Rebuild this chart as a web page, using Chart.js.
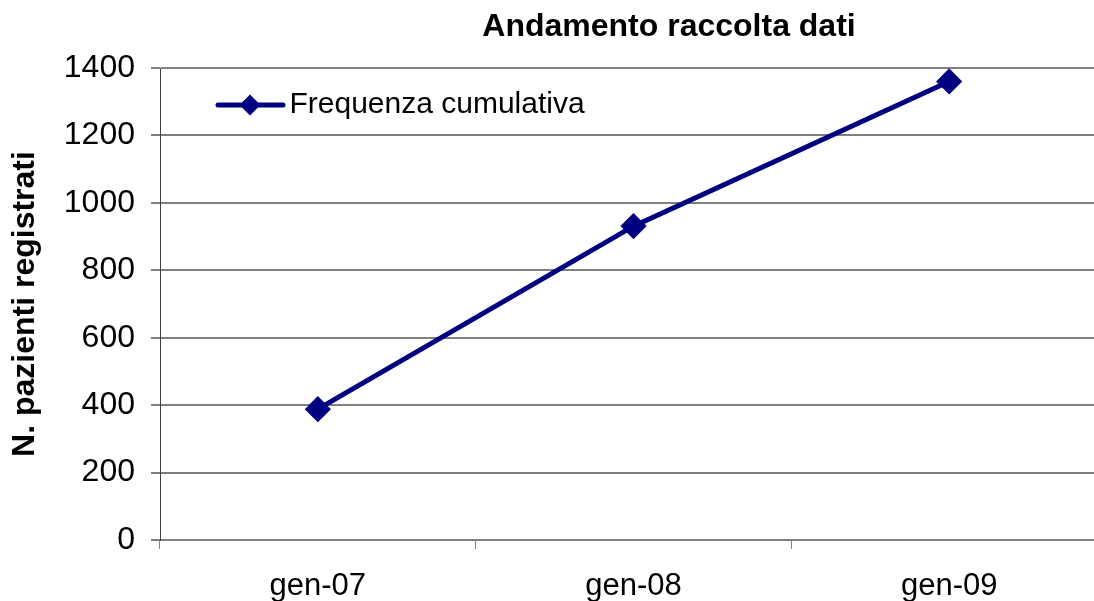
<!DOCTYPE html>
<html lang="it">
<head>
<meta charset="utf-8">
<title>Andamento raccolta dati</title>
<script src="https://cdn.jsdelivr.net/npm/chart.js@4/dist/chart.umd.min.js"></script>
<style>
  html, body { margin: 0; padding: 0; background: #ffffff; overflow: hidden; }
  #wrap { position: absolute; left: 0; top: 0; width: 1338px; height: 620px; }
</style>
</head>
<body>
<div id="wrap"><canvas id="chart"></canvas></div>
<script>
// Cumulative count of registered patients, by January of each year
const periodi = ['gen-07', 'gen-08', 'gen-09'];
const frequenzaCumulativa = [388, 931, 1360];
const yTicks = [0, 200, 400, 600, 800, 1000, 1200, 1400];

const FONT = '"Liberation Sans", Arial, Helvetica, sans-serif';
const NAVY = '#000080';
const GRID = '#808080';

// Series key drawn inside the plot area: line sample + diamond + label
const seriesKey = {
  id: 'seriesKey',
  afterDraw(chart) {
    const { ctx, chartArea } = chart;
    const ds = chart.data.datasets[0];
    const y = chartArea.top + 37;
    const x0 = chartArea.left + 58;
    const x1 = chartArea.left + 123;
    const cx = chartArea.left + 90;
    ctx.save();
    ctx.strokeStyle = ds.borderColor;
    ctx.lineWidth = 5;
    ctx.lineCap = 'round';
    ctx.beginPath();
    ctx.moveTo(x0, y);
    ctx.lineTo(x1, y);
    ctx.stroke();
    const r = 10.5;
    ctx.fillStyle = ds.pointBackgroundColor;
    ctx.beginPath();
    ctx.moveTo(cx - r, y);
    ctx.lineTo(cx, y - r);
    ctx.lineTo(cx + r, y);
    ctx.lineTo(cx, y + r);
    ctx.closePath();
    ctx.fill();
    ctx.fillStyle = '#000000';
    ctx.font = '30px ' + FONT;
    ctx.textBaseline = 'middle';
    ctx.textAlign = 'left';
    ctx.fillText(ds.label, chartArea.left + 129.5, y);
    ctx.restore();
  }
};

new Chart(document.getElementById('chart'), {
  type: 'line',
  data: {
    labels: periodi,
    datasets: [{
      label: 'Frequenza cumulativa',
      data: frequenzaCumulativa,
      borderColor: NAVY,
      backgroundColor: NAVY,
      borderWidth: 5,
      tension: 0,
      pointStyle: 'rectRot',
      pointRadius: 11,
      pointBorderWidth: 3,
      pointBackgroundColor: NAVY,
      pointBorderColor: NAVY,
      xAxisID: 'x',
      yAxisID: 'y'
    }]
  },
  options: {
    responsive: true,
    maintainAspectRatio: false,
    animation: false,
    devicePixelRatio: 1,
    layout: { padding: 0 },
    plugins: {
      legend: { display: false },
      tooltip: { enabled: false },
      title: {
        display: true,
        text: 'Andamento raccolta dati',
        color: '#000000',
        font: { family: FONT, size: 32, weight: 'bold', lineHeight: 1.2 },
        padding: { top: 8, bottom: 21.6 }
      }
    },
    scales: {
      x: {
        type: 'category',
        offset: true,
        grid: {
          offset: true,
          drawOnChartArea: false,
          drawTicks: true,
          tickLength: 9,
          color: GRID,
          lineWidth: 1
        },
        border: { display: true, color: GRID, width: 2 },
        ticks: {
          color: '#000000',
          font: { family: FONT, size: 31, lineHeight: 1.2 },
          padding: 19,
          maxRotation: 0,
          autoSkip: false
        },
        afterFit(s) { s.height = 80; }
      },
      y: {
        type: 'linear',
        position: 'left',
        min: 0,
        max: 1400,
        afterBuildTicks(s) { s.ticks = yTicks.map(v => ({ value: v })); },
        grid: {
          color: GRID,
          lineWidth: 2,
          drawTicks: true,
          tickLength: 9
        },
        border: { display: true, color: '#404040', width: 1 },
        ticks: {
          color: '#000000',
          font: { family: FONT, size: 32 },
          padding: 16,
          callback: (v) => String(v)
        },
        title: {
          display: true,
          text: 'N. pazienti registrati',
          color: '#000000',
          font: { family: FONT, size: 32, weight: 'bold', lineHeight: 1.2 },
          padding: { top: 6, bottom: 0 }
        },
        afterFit(s) { s.width = 160; }
      },
      // empty right-hand band so the title centres over the full frame
      margine: {
        type: 'linear',
        position: 'right',
        min: 0,
        max: 1,
        grid: { display: false },
        border: { display: false },
        ticks: { display: false },
        afterFit(s) { s.width = 231; }
      }
    }
  },
  plugins: [seriesKey]
});
</script>
</body>
</html>
